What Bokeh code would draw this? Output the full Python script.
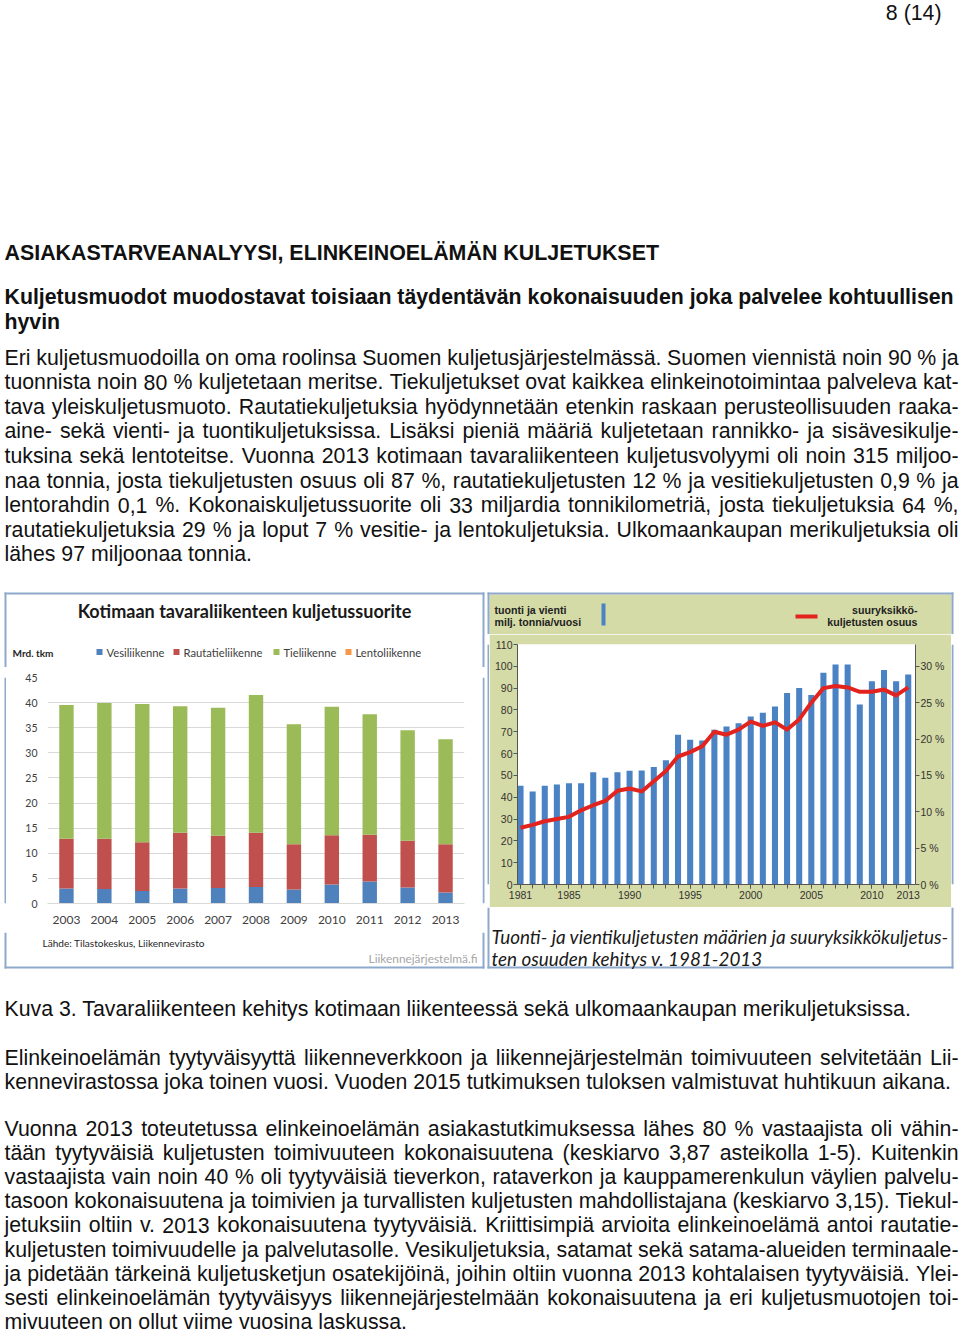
import subprocess
from bokeh.plotting import figure
from bokeh.models import (Range1d, LinearAxis, FixedTicker, PrintfTickFormatter, ColumnDataSource)
from bokeh.layouts import column, row
from bokeh.embed import file_html
from bokeh.resources import INLINE
from bokeh.core.properties import value

try:
    from PIL import ImageFont
except Exception:
    ImageFont = None

# ---------------- data ----------------
dom_years = [2003, 2004, 2005, 2006, 2007, 2008, 2009, 2010, 2011, 2012, 2013]
vesi = [3.0, 2.9, 2.5, 3.0, 3.1, 3.3, 2.8, 3.8, 4.4, 3.2, 2.2]
rauta = [9.9, 10.0, 9.7, 11.1, 10.4, 10.8, 9.0, 9.8, 9.3, 9.3, 9.6]
tie = [26.6, 27.0, 27.5, 25.2, 25.5, 27.4, 23.9, 25.6, 24.0, 22.0, 20.9]
lento = [0.0, 0.0, 0.0, 0.0, 0.0, 0.0, 0.0, 0.0, 0.0, 0.0, 0.0]
dom_series = ["Vesiliikenne", "Rautatieliikenne", "Tieliikenne", "Lentoliikenne"]
dom_colors = ["#4f81bd", "#c0504d", "#9bbb59", "#f79646"]
dom_yticks = [0, 5, 10, 15, 20, 25, 30, 35, 40, 45]

sea_years = [1981, 1982, 1983, 1984, 1985, 1986, 1987, 1988, 1989, 1990, 1991,
             1992, 1993, 1994, 1995, 1996, 1997, 1998, 1999, 2000, 2001, 2002,
             2003, 2004, 2005, 2006, 2007, 2008, 2009, 2010, 2011, 2012, 2013]
sea_tonnes = [45.3, 42.6, 45.3, 45.8, 46.4, 46.4, 51.5, 48.9, 51.4, 52.1, 52.3,
              53.8, 56.9, 68.6, 66.3, 66.0, 70.9, 72.4, 73.9, 77.0, 78.7, 81.6,
              87.8, 90.1, 86.9, 97.0, 100.8, 100.8, 82.5, 93.1, 98.3, 93.1, 96.2]
sea_share = [7.8, 8.2, 8.7, 9.0, 9.3, 10.2, 10.9, 11.5, 12.9, 13.2, 12.8,
             14.2, 15.6, 17.6, 18.2, 19.0, 21.0, 20.6, 21.3, 22.4, 21.8, 22.3,
             21.3, 22.7, 25.0, 27.0, 27.3, 27.1, 26.5, 26.5, 26.8, 26.0, 27.1]
sea_xticks = [1981, 1985, 1990, 1995, 2000, 2005, 2010, 2013]
sea_yticks = [0, 10, 20, 30, 40, 50, 60, 70, 80, 90, 100, 110]
sea_pticks = [0, 5, 10, 15, 20, 25, 30]

page_no = "8 (14)"
heading = "ASIAKASTARVEANALYYSI, ELINKEINOELÄMÄN KULJETUKSET"
subheading = ["Kuljetusmuodot muodostavat toisiaan täydentävän kokonaisuuden joka palvelee kohtuullisen",
              "hyvin"]
para1 = [
    "Eri kuljetusmuodoilla on oma roolinsa Suomen kuljetusjärjestelmässä. Suomen viennistä noin 90 % ja",
    "tuonnista noin 80 % kuljetetaan meritse. Tiekuljetukset ovat kaikkea elinkeinotoimintaa palveleva kat-",
    "tava yleiskuljetusmuoto. Rautatiekuljetuksia hyödynnetään etenkin raskaan perusteollisuuden raaka-",
    "aine- sekä vienti- ja tuontikuljetuksissa. Lisäksi pieniä määriä kuljetetaan rannikko- ja sisävesikulje-",
    "tuksina sekä lentoteitse. Vuonna 2013 kotimaan tavaraliikenteen kuljetusvolyymi oli noin 315 miljoo-",
    "naa tonnia, josta tiekuljetusten osuus oli 87 %, rautatiekuljetusten 12 % ja vesitiekuljetusten 0,9 % ja",
    "lentorahdin 0,1 %. Kokonaiskuljetussuorite oli 33 miljardia tonnikilometriä, josta tiekuljetuksia 64 %,",
    "rautatiekuljetuksia 29 % ja loput 7 % vesitie- ja lentokuljetuksia. Ulkomaankaupan merikuljetuksia oli",
    "lähes 97 miljoonaa tonnia.",
]
caption = "Kuva 3. Tavaraliikenteen kehitys kotimaan liikenteessä sekä ulkomaankaupan merikuljetuksissa."
para2 = [
    "Elinkeinoelämän tyytyväisyyttä liikenneverkkoon ja liikennejärjestelmän toimivuuteen selvitetään Lii-",
    "kennevirastossa joka toinen vuosi. Vuoden 2015 tutkimuksen tuloksen valmistuvat huhtikuun aikana.",
]
para3 = [
    "Vuonna 2013 toteutetussa elinkeinoelämän asiakastutkimuksessa lähes 80 % vastaajista oli vähin-",
    "tään tyytyväisiä kuljetusten toimivuuteen kokonaisuutena (keskiarvo 3,87 asteikolla 1-5). Kuitenkin",
    "vastaajista vain noin 40 % oli tyytyväisiä tieverkon, rataverkon ja kauppamerenkulun väylien palvelu-",
    "tasoon kokonaisuutena ja toimivien ja turvallisten kuljetusten mahdollistajana (keskiarvo 3,15). Tiekul-",
    "jetuksiin oltiin v. 2013 kokonaisuutena tyytyväisiä. Kriittisimpiä arvioita elinkeinoelämä antoi rautatie-",
    "kuljetusten toimivuudelle ja palvelutasolle. Vesikuljetuksia, satamat sekä satama-alueiden terminaale-",
    "ja pidetään tärkeinä kuljetusketjun osatekijöinä, joihin oltiin vuonna 2013 kohtalaisen tyytyväisiä. Ylei-",
    "sesti elinkeinoelämän tyytyväisyys liikennejärjestelmään kokonaisuutena ja eri kuljetusmuotojen toi-",
    "mivuuteen on ollut viime vuosina laskussa.",
]
left_title = "Kotimaan tavaraliikenteen kuljetussuorite"
left_unit = "Mrd. tkm"
left_source = "Lähde: Tilastokeskus, Liikennevirasto"
left_brand = "Liikennejärjestelmä.fi"
right_leg1 = ["tuonti ja vienti", "milj. tonnia/vuosi"]
right_leg2 = ["suuryksikkö-", "kuljetusten osuus"]
right_caption = ["Tuonti- ja vientikuljetusten määrien ja suuryksikkökuljetus-",
                 "ten osuuden kehitys v. 1981-2013"]


# ---------------- font metrics (for justified text) ----------------
def font_file(family, style):
    try:
        r = subprocess.run(["fc-match", "-f", "%{file}", f"{family}:style={style}"],
                           capture_output=True, text=True, timeout=10)
        if r.returncode == 0 and r.stdout.strip():
            return r.stdout.strip()
    except Exception:
        pass
    return None


def make_metric(family, style):
    if ImageFont is None:
        return None
    path = font_file(family, style)
    if not path:
        return None
    try:
        f = ImageFont.truetype(path, 100)
        f.getlength("a")
    except Exception:
        return None
    return lambda s, size: f.getlength(s) * size / 100.0


M_BODY = make_metric("Liberation Sans", "Regular")
M_BODY_B = make_metric("Liberation Sans", "Bold")
M_LATO_B = make_metric("Lato", "Bold")
M_LATO_I = make_metric("Lato", "Italic")
M_LATO = make_metric("Lato", "Regular")


def fit(metric, text, target, default):
    if metric is None:
        return default
    try:
        w = metric(text, 100)
        return round(target * 100.0 / w, 2) if w > 0 else default
    except Exception:
        return default


BODY = "Liberation Sans"
BODY_SIZE = 21.3
LINE = 24.6
PW = 960
BORDER = "#8fa9cd"
OLIVE = "#d5dba6"


def canvas(w, h, bg="white"):
    p = figure(width=w, height=h, x_range=Range1d(0, w), y_range=Range1d(h, 0),
               x_axis_type=None, y_axis_type=None, toolbar_location=None,
               output_backend="svg", min_border=0, title=None)
    p.outline_line_color = None
    p.background_fill_color = bg
    p.border_fill_color = bg
    return p


def rect(p, l, r, t, b, color):
    p.quad(left=[l], right=[r], top=[t], bottom=[b], fill_color=color, line_color=None)


def put(p, xs, ys, texts, size=BODY_SIZE, style="normal", align="left",
        color="#111111", font=BODY):
    p.text(x=xs, y=ys, text=texts, text_font=value(font), text_font_size=f"{size}px",
           text_font_style=style, text_align=align, text_baseline="middle", text_color=color)


def paragraph(p, lines, y0, step, size=BODY_SIZE, x0=4, x1=958):
    xs, ys, ts = [], [], []
    for i, line in enumerate(lines):
        y = y0 + i * step
        words = line.split(" ")
        if M_BODY is not None and i < len(lines) - 1 and len(words) > 1:
            widths = [M_BODY(w, size) for w in words]
            gap = (x1 - x0 - sum(widths)) / (len(words) - 1)
            x = x0
            for w, wd in zip(words, widths):
                xs.append(x)
                ys.append(y)
                ts.append(w)
                x += wd + gap
        else:
            xs.append(x0)
            ys.append(y)
            ts.append(line)
    put(p, xs, ys, ts, size)


# ---------------- top text ----------------
TOP_H = 590
top = canvas(PW, TOP_H)
put(top, [941], [12], [page_no], align="right")
put(top, [4], [252], [heading], size=21.4, style="bold")
put(top, [4, 4], [296, 321], subheading, style="bold")
paragraph(top, para1, 357, LINE)

# ---------------- left chart ----------------
# head (page y 590..667)
LH_H = 77
lhead = canvas(485, LH_H)
rect(lhead, 4, 484, 2, 4, BORDER)
rect(lhead, 4, 6, 2, LH_H, BORDER)
rect(lhead, 482, 484, 2, LH_H, BORDER)
put(lhead, [244], [20], [left_title], size=fit(M_LATO_B, left_title, 334, 16.5),
    style="bold", align="center", color="#1a1a1a", font="Lato")
put(lhead, [12], [62], [left_unit], size=fit(M_LATO_B, left_unit, 41, 9.5),
    style="bold", color="#262626", font="Lato")
# legend: swatch + label for each series
leg_x = [96, 173, 273, 345]
leg_size = fit(M_LATO, dom_series[0], 58, 10.5)
for lx0, c in zip(leg_x, dom_colors):
    rect(lhead, lx0, lx0 + 6, 58.5, 64.5, c)
put(lhead, [x + 10 for x in leg_x], [61.5] * 4, dom_series, size=leg_size,
    color="#404040", font="Lato")

# plot (page x 6..482, y 667..932)
LP_W, LP_H = 476, 265
pl = figure(width=LP_W, height=LP_H, x_range=Range1d(2002.5, 2013.5), y_range=Range1d(0, 45),
            toolbar_location=None, output_backend="svg", title=None,
            min_border_left=41, min_border_right=18, min_border_top=10, min_border_bottom=29)
pl.background_fill_color = "white"
pl.border_fill_color = "white"
pl.outline_line_color = None
src = ColumnDataSource(dict(year=dom_years, vesi=vesi, rauta=rauta, tie=tie, lento=lento))
pl.vbar_stack(["vesi", "rauta", "tie", "lento"], x="year", width=0.38,
              fill_color=dom_colors, line_color=None, source=src)
pl.xgrid.visible = False
pl.ygrid.grid_line_color = "#d9d9d9"
pl.xaxis.ticker = FixedTicker(ticks=dom_years)
pl.yaxis.ticker = FixedTicker(ticks=dom_yticks)
for ax in (pl.xaxis[0], pl.yaxis[0]):
    ax.major_tick_out = 0
    ax.major_tick_in = 0
    ax.minor_tick_line_color = None
    ax.major_label_text_font = "Lato"
    ax.major_label_text_color = "#404040"
pl.xaxis.axis_line_color = "#d9d9d9"
pl.yaxis.axis_line_color = None
pl.xaxis.major_label_text_font_size = "12px"
pl.xaxis.major_label_standoff = 12
pl.yaxis.major_label_text_font_size = "10.5px"
pl.yaxis.major_label_standoff = 10

lstrip_l = canvas(6, LP_H)
rect(lstrip_l, 4, 6, 0, LP_H, BORDER)
lstrip_r = canvas(3, LP_H)
rect(lstrip_r, 0, 2, 0, LP_H, BORDER)

# foot (page y 932..970)
LF_H = 38
lfoot = canvas(485, LF_H)
rect(lfoot, 4, 6, 0, LF_H - 2, BORDER)
rect(lfoot, 482, 484, 0, LF_H - 2, BORDER)
rect(lfoot, 4, 484, LF_H - 4, LF_H - 2, BORDER)
put(lfoot, [42], [10], [left_source], size=fit(M_LATO, left_source, 162, 9.5),
    color="#262626", font="Lato")
put(lfoot, [477], [26], [left_brand], size=fit(M_LATO, left_brand, 109, 11),
    align="right", color="#a6a6a6", font="Lato")

left_chart = column(lhead, row(lstrip_l, pl, lstrip_r), lfoot)

# ---------------- right chart ----------------
RW = 475
RH_H = 44
rhead = canvas(RW, RH_H)
rect(rhead, 4, 466, 4, RH_H, OLIVE)
rect(rhead, 2, 468, 2, 4, BORDER)
rect(rhead, 2, 4, 2, RH_H, BORDER)
rect(rhead, 466, 468, 2, RH_H, BORDER)
rleg_size = fit(M_BODY_B, right_leg1[0], 72, 10.6)
put(rhead, [9, 9], [19, 31], right_leg1, size=rleg_size, style="bold", color="#222222")
put(rhead, [432, 432], [19, 31], right_leg2, size=rleg_size, style="bold",
    align="right", color="#222222")
rect(rhead, 116, 120, 13, 35, "#4a82c3")
rect(rhead, 310, 332, 24, 28, "#e2231e")

RP_W, RP_H = 462, 273
RX0, RX1 = 1980.75, 2013.6
pr = figure(width=RP_W, height=RP_H, x_range=Range1d(RX0, RX1), y_range=Range1d(0, 110),
            toolbar_location=None, output_backend="svg", title=None,
            min_border_left=28, min_border_right=36, min_border_top=10, min_border_bottom=23)
pr.background_fill_color = "white"
pr.border_fill_color = OLIVE
pr.outline_line_color = None
pr.grid.visible = False
pr.extra_y_ranges = {"pct": Range1d(0, 33)}
pr.vbar(x=sea_years, top=sea_tonnes, width=0.5, fill_color="#4a82c3", line_color=None)
pr.line(x=sea_years, y=sea_share, y_range_name="pct", line_color="#e2231e",
        line_width=4, line_join="round")
left_ax = pr.yaxis[0]
left_ax.ticker = FixedTicker(ticks=sea_yticks)
right_ax = LinearAxis(y_range_name="pct", ticker=FixedTicker(ticks=sea_pticks),
                      formatter=PrintfTickFormatter(format="%d %%"))
pr.add_layout(right_ax, "right")
pr.xaxis.ticker = FixedTicker(ticks=sea_xticks, minor_ticks=sea_years)
for ax in (pr.xaxis[0], left_ax, right_ax):
    ax.axis_line_color = "#555555"
    ax.major_tick_line_color = "#555555"
    ax.minor_tick_line_color = "#555555"
    ax.major_tick_in = 0
    ax.minor_tick_in = 0
    ax.major_tick_out = 4
    ax.minor_tick_out = 0
    ax.major_label_standoff = 2
    ax.major_label_text_font = BODY
    ax.major_label_text_font_size = "10.5px"
    ax.major_label_text_color = "#333333"
pr.xaxis.minor_tick_out = 4
left_ax.major_label_standoff = 1
right_ax.major_label_standoff = 1

rstrip_l = canvas(4, RP_H)
rect(rstrip_l, 2, 4, 0, RP_H, BORDER)
rstrip_r = canvas(9, RP_H)
rect(rstrip_r, 0, 2, 0, RP_H, BORDER)

RF_H = 63
rfoot = canvas(RW, RF_H)
rect(rfoot, 2, 4, 0, RF_H - 2, BORDER)
rect(rfoot, 466, 468, 0, RF_H - 2, BORDER)
rect(rfoot, 2, 468, RF_H - 4, RF_H - 2, BORDER)
cap_size = fit(M_LATO_I, right_caption[0], 457, 17.5)
put(rfoot, [6, 6], [29, 51], right_caption, size=cap_size, style="italic",
    color="#1a1a1a", font="Lato")

right_chart = column(rhead, row(rstrip_l, pr, rstrip_r), rfoot)

# ---------------- bottom text ----------------
BOT_H = 1336 - 970
bot = canvas(PW, BOT_H)
put(bot, [4], [38], [caption])
paragraph(bot, para2, 87, LINE)
paragraph(bot, para3, 158, 24.2)

layout = column(top, row(left_chart, right_chart), bot)
open("out.html", "w").write(file_html(layout, INLINE))
